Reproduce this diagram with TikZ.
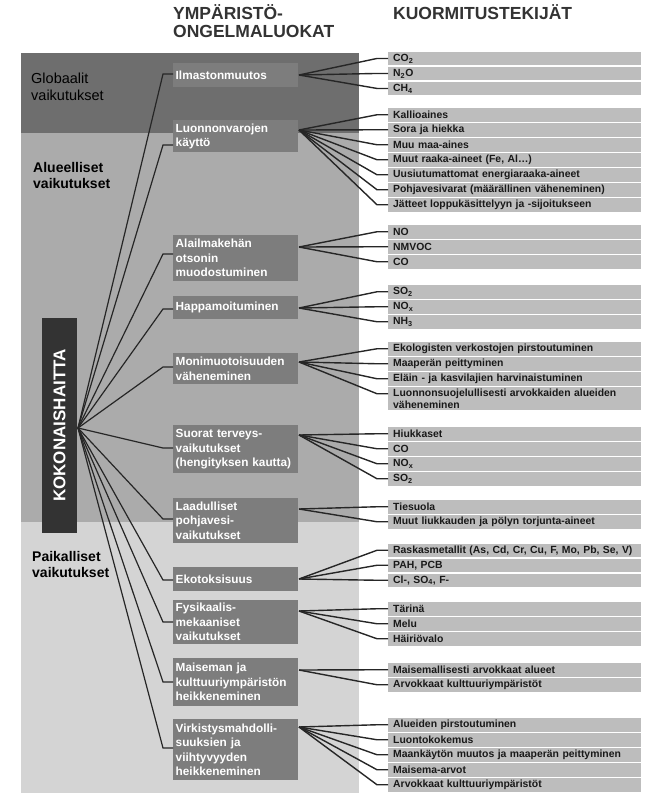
\documentclass[tikz,border=0pt]{standalone}
\usepackage{fontspec}
\setmainfont{Liberation Sans}

\definecolor{globalband}{gray}{0.43}
\definecolor{regionband}{gray}{0.67}
\definecolor{localband}{gray}{0.83}
\definecolor{boxfill}{gray}{0.49}
\definecolor{rowfill}{gray}{0.74}
\definecolor{barfill}{gray}{0.2}
\definecolor{linecol}{gray}{0.15}
\definecolor{headtext}{gray}{0.2}

\tikzset{
  midbox/.style={fill=boxfill, text=white, anchor=north west, align=left,
    text width=120pt, inner xsep=2.5pt, inner ysep=3pt,
    font=\bfseries\fontsize{11.8}{14.5}\selectfont},
  factor/.style={fill=rowfill, text=black!90, anchor=north west, align=left,
    text width=243pt, inner xsep=5pt, inner ysep=1.5pt, minimum height=13.5pt,
    font=\bfseries\fontsize{10.4}{12.5}\selectfont},
  link/.style={draw=linecol, line width=1.2pt},
  fan/.style={draw=linecol, line width=1.4pt},
  bandlabel/.style={anchor=north west, inner sep=0pt, align=left,
    font=\bfseries\fontsize{14}{16}\selectfont},
  heading/.style={anchor=north west, inner sep=0pt, align=left, text=headtext,
    font=\bfseries\fontsize{17.5}{18}\selectfont},
}

\begin{document}
\begin{tikzpicture}[x=1pt, y=-1pt]
    \useasboundingbox (0,0) rectangle (663,796);
    % background bands
    \fill[globalband] (21,53) rectangle (359,133);
    \fill[regionband] (21,133) rectangle (359,522);
    \fill[localband] (21,522) rectangle (359,793);
    \node[bandlabel, font=\fontsize{14.5}{16.5}\selectfont, text=black] (globaali) at (31,73) {Globaalit\\vaikutukset};
    \node[bandlabel] (alueellinen) at (33,162) {Alueelliset\\vaikutukset};
    \node[bandlabel] (paikallinen) at (32,551) {Paikalliset\\vaikutukset};

    % column headings
    \node[heading] (luokat) at (173,4) {YMPÄRISTÖ-\\ONGELMALUOKAT};
    \node[heading] (tekijat) at (393,4) {KUORMITUSTEKIJÄT};

    % total harm bar
    \node[fill=barfill, text=white, rotate=90, minimum width=215pt, minimum height=35pt,
      inner sep=0pt, font=\bfseries\fontsize{17}{17}\selectfont] (koko) at (59.5,425.5) {KOKONAISHAITTA};
    \coordinate (hub) at (78,428);

    % problem categories
    \foreach \b/\t/\h/\k/\f/\txt in {
      ilma/63/24/11/12/{Ilmastonmuutos},
      luonto/120/32/25/10/{Luonnonvarojen\\käyttö},
      otsoni/235/46/19/12/{Alailmakehän\\otsonin\\muodostuminen},
      happo/296/23/13/12/{Happamoituminen},
      moni/353/31/14/9/{Monimuotoisuuden\\väheneminen},
      terveys/425/48/23/10/{Suorat terveys-\\vaikutukset\\(hengityksen kautta)},
      pohja/498/45/21/11/{Laadulliset\\pohjavesi-\\vaikutukset},
      ekotox/567/24/13/12/{Ekotoksisuus},
      fysik/600/44/22/11/{Fysikaalis-\\mekaaniset\\vaikutukset},
      maisema/658/48/24/12/{Maiseman ja\\kulttuuriympäristön\\heikkeneminen},
      virkistys/719/61/29/8/{Virkistysmahdolli-\\suuksien ja\\viihtyvyyden\\heikkeneminen}}
    {
      \node[midbox, minimum height=\h pt] (\b) at (173,\t) {\txt};
      \coordinate (\b-in) at (173,\t+\k);
      \coordinate (\b-out) at (299,\t+\f);
      \draw[link] (hub) -- ([xshift=-10pt]\b-in) -- (\b-in);
    }

    % load factors
    \foreach \b/\t/\items in {
      ilma/51.7/{CO\textsubscript{2},N\textsubscript{2}O,CH\textsubscript{4}},
      luonto/108/{Kallioaines,Sora ja hiekka,Muu maa-aines,{Muut raaka-aineet (Fe, Al…)},Uusiutumattomat energiaraaka-aineet,Pohjavesivarat (määrällinen väheneminen),Jätteet loppukäsittelyyn ja -sijoitukseen},
      otsoni/225/{NO,NMVOC,CO},
      happo/285/{SO\textsubscript{2},NO\textsubscript{x},NH\textsubscript{3}},
      moni/342/{Ekologisten verkostojen pirstoutuminen,Maaperän peittyminen,Eläin - ja kasvilajien harvinaistuminen,Luonnonsuojelullisesti arvokkaiden alueiden\\väheneminen},
      terveys/427/{Hiukkaset,CO,NO\textsubscript{x},SO\textsubscript{2}},
      pohja/500/{Tiesuola,Muut liukkauden ja pölyn torjunta-aineet},
      ekotox/543.5/{{Raskasmetallit (As, Cd, Cr, Cu, F, Mo, Pb, Se, V)},{PAH, PCB},{Cl-, SO\textsubscript{4}, F-}},
      fysik/602/{Tärinä,Melu,Häiriövalo},
      maisema/663/{Maisemallisesti arvokkaat alueet,Arvokkaat kulttuuriympäristöt},
      virkistys/718/{Alueiden pirstoutuminen,Luontokokemus,Maankäytön muutos ja maaperän peittyminen,Maisema-arvot,Arvokkaat kulttuuriympäristöt}}
    {
      \foreach \txt [count=\j from 0] in \items {
        \node[factor] (\b-f\j) at (388,\t+15*\j) {\txt};
        \coordinate (\b-f\j-in) at (388,\t+15*\j+6.75);
        \draw[fan] (\b-out) -- ([xshift=-11pt]\b-f\j-in) -- (\b-f\j-in);
      }
    }
\end{tikzpicture}
\end{document}
